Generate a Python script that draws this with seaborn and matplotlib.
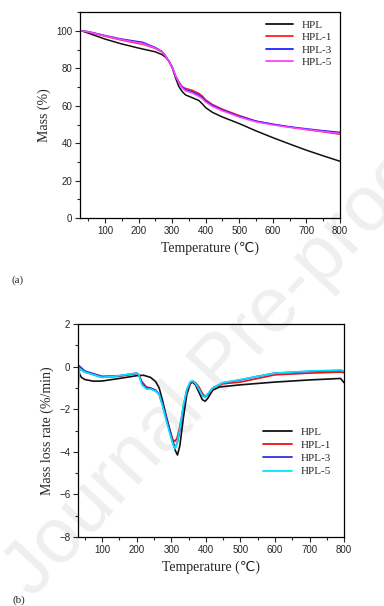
import numpy as np
import pandas as pd
import matplotlib
matplotlib.use("Agg")
import matplotlib.pyplot as plt
from matplotlib.ticker import MultipleLocator, AutoMinorLocator
import seaborn as sns

# TGA data (mass %)
t_hpl = [30, 50, 100, 150, 200, 250, 270, 280, 290, 300, 310, 320, 330, 340, 360, 380, 390, 400, 420, 450, 500, 550, 600, 650, 700, 750, 800]
m_hpl = [100, 98.8, 95.6, 93, 90.8, 88.8, 87.3, 86, 84, 80.5, 75, 70.3, 67.6, 65.8, 64.3, 62.8, 61, 59, 56.5, 54, 50.5, 46.6, 43, 39.6, 36.3, 33.3, 30.4]

t_mod = [30, 50, 100, 150, 200, 212, 250, 270, 280, 290, 300, 310, 320, 330, 340, 360, 380, 390, 400, 420, 450, 500, 550, 600, 650, 700, 750, 800]
m_hpl1 = [100, 99.4, 97.1, 95, 93.2, 92.9, 90.6, 88.6, 86.5, 83.8, 80.7, 76, 72.8, 70.2, 69.3, 68.3, 66.6, 65.2, 63.2, 60.7, 58.2, 54.8, 51.8, 50, 48.6, 47.3, 46.1, 44.8]
m_hpl3 = [100, 99.6, 97.5, 95.6, 94.2, 93.9, 91.1, 89, 86.8, 84, 80.9, 76, 72.5, 69.8, 68.6, 67.5, 65.8, 64.5, 62.6, 60.2, 57.7, 54.4, 51.8, 50.2, 48.8, 47.7, 46.7, 45.8]
m_hpl5 = [100, 99.5, 97.3, 95.3, 93.6, 93.3, 90.8, 88.8, 86.6, 83.9, 80.8, 76, 72.4, 69.5, 68, 66.8, 65, 63.8, 62, 59.7, 57.3, 54, 51.4, 49.8, 48.5, 47.4, 46.3, 45.2]

# DTG data (mass loss rate, %/min)
d_t_hpl = [30, 35, 40, 50, 75, 100, 150, 200, 220, 240, 255, 265, 275, 285, 295, 305, 312, 318, 325, 335, 345, 355, 362, 370, 380, 390, 398, 405, 420, 440, 470, 500, 600, 700, 790, 800]
d_hpl = [-0.05, -0.35, -0.5, -0.6, -0.68, -0.67, -0.55, -0.42, -0.4, -0.5, -0.7, -1.0, -1.6, -2.3, -2.9, -3.5, -3.95, -4.15, -3.7, -2.4, -1.3, -0.8, -0.72, -0.85, -1.2, -1.55, -1.62, -1.5, -1.1, -0.95, -0.9, -0.85, -0.72, -0.62, -0.55, -0.75]

d_t_mod = [30, 35, 50, 100, 150, 200, 205, 215, 228, 240, 255, 265, 275, 285, 295, 305, 311, 317, 325, 335, 345, 355, 362, 370, 380, 390, 398, 405, 420, 450, 500, 550, 600, 700, 790, 800]
d_hpl1 = [0.0, -0.1, -0.25, -0.5, -0.45, -0.32, -0.35, -0.7, -0.95, -1.0, -1.15, -1.3, -1.8, -2.4, -3.0, -3.45, -3.5, -3.35, -2.8, -1.9, -1.15, -0.78, -0.68, -0.75, -0.95, -1.25, -1.42, -1.35, -1.0, -0.8, -0.72, -0.55, -0.38, -0.3, -0.25, -0.28]
d_hpl3 = [0.1, 0.02, -0.2, -0.45, -0.42, -0.3, -0.35, -0.75, -1.0, -1.0, -1.1, -1.3, -1.8, -2.4, -3.0, -3.6, -3.85, -3.6, -3.0, -1.9, -1.1, -0.72, -0.68, -0.8, -1.05, -1.35, -1.42, -1.3, -1.0, -0.75, -0.62, -0.45, -0.3, -0.22, -0.18, -0.2]
d_hpl5 = [-1.05, -0.1, -0.25, -0.5, -0.42, -0.3, -0.35, -0.85, -1.05, -1.05, -1.15, -1.3, -1.85, -2.5, -3.1, -3.65, -3.85, -3.6, -2.9, -1.8, -1.05, -0.7, -0.66, -0.78, -1.05, -1.35, -1.45, -1.3, -1.0, -0.75, -0.6, -0.45, -0.3, -0.2, -0.15, -0.2]

labels = ["HPL", "HPL-1", "HPL-3", "HPL-5"]


def long_df(xs, ys):
    parts = []
    for lab, x, y in zip(labels, xs, ys):
        parts.append(pd.DataFrame({"T": x, "v": y, "sample": lab}))
    return pd.concat(parts, ignore_index=True)


tga = long_df([t_hpl, t_mod, t_mod, t_mod], [m_hpl, m_hpl1, m_hpl3, m_hpl5])
dtg = long_df([d_t_hpl, d_t_mod, d_t_mod, d_t_mod], [d_hpl, d_hpl1, d_hpl3, d_hpl5])

sns.set_style("ticks")
serif = ["Liberation Serif", "DejaVu Sans"]
plt.rcParams["font.family"] = ["Liberation Sans", "DejaVu Sans"]

fig = plt.figure(figsize=(3.84, 6.06), dpi=100)

# watermark (runs off the right edge, as in the source page)
fig.text(0.085, 0.012, "Journal Pre-proof", rotation=47, rotation_mode="anchor",
         ha="left", va="baseline", fontsize=56, color="#efefef", zorder=-5)

ax1 = fig.add_axes([0.208, 0.640, 0.677, 0.340])
ax2 = fig.add_axes([0.203, 0.114, 0.693, 0.351])
for ax in (ax1, ax2):
    ax.patch.set_alpha(0)

sns.lineplot(data=tga, x="T", y="v", hue="sample", ax=ax1, sort=False, estimator=None,
             palette=["#111111", "#ff2020", "#2020ff", "#ff40ff"], linewidth=1.1)
sns.lineplot(data=dtg, x="T", y="v", hue="sample", ax=ax2, sort=False, estimator=None,
             palette=["#111111", "#ee1111", "#3333dd", "#00e5ff"], linewidth=1.2)

ax1.set_xlim(25, 800)
ax1.set_ylim(0, 110)
ax1.set_yticks([0, 20, 40, 60, 80, 100])
ax2.set_xlim(30, 800)
ax2.set_ylim(-8, 2)
ax2.set_yticks([-8, -6, -4, -2, 0, 2])

for ax in (ax1, ax2):
    ax.set_xticks([100, 200, 300, 400, 500, 600, 700, 800])
    ax.xaxis.set_minor_locator(MultipleLocator(50))
    ax.yaxis.set_minor_locator(AutoMinorLocator(2))
    ax.tick_params(which="major", direction="out", length=3.5, width=0.8, labelsize=7, pad=2)
    ax.tick_params(which="minor", direction="out", length=2, width=0.8)
    for s in ax.spines.values():
        s.set_linewidth(0.9)
        s.set_color("black")
    ax.set_xlabel("Temperature (\u2103)", family=serif, fontsize=10, labelpad=4)

ax1.set_ylabel("Mass (%)", family=serif, fontsize=10, labelpad=4)
ax2.set_ylabel("Mass loss rate (%/min)", family=serif, fontsize=10, labelpad=4)

ax1.legend(loc="upper right", frameon=False, prop={"family": serif, "size": 8},
           handlelength=2.4, labelspacing=0.25, borderaxespad=0.3)
ax2.legend(loc="center right", bbox_to_anchor=(0.99, 0.40), frameon=False,
           prop={"family": serif, "size": 8}, handlelength=2.6, labelspacing=0.3)
for leg in (ax1.get_legend(), ax2.get_legend()):
    leg.set_title(None)
    for h in leg.get_lines():
        h.set_linewidth(1.3)

fig.text(0.03, 0.533, "(a)", family=serif, fontsize=8)
fig.text(0.033, 0.006, "(b)", family=serif, fontsize=8)

fig.savefig("out.png", dpi=100)
